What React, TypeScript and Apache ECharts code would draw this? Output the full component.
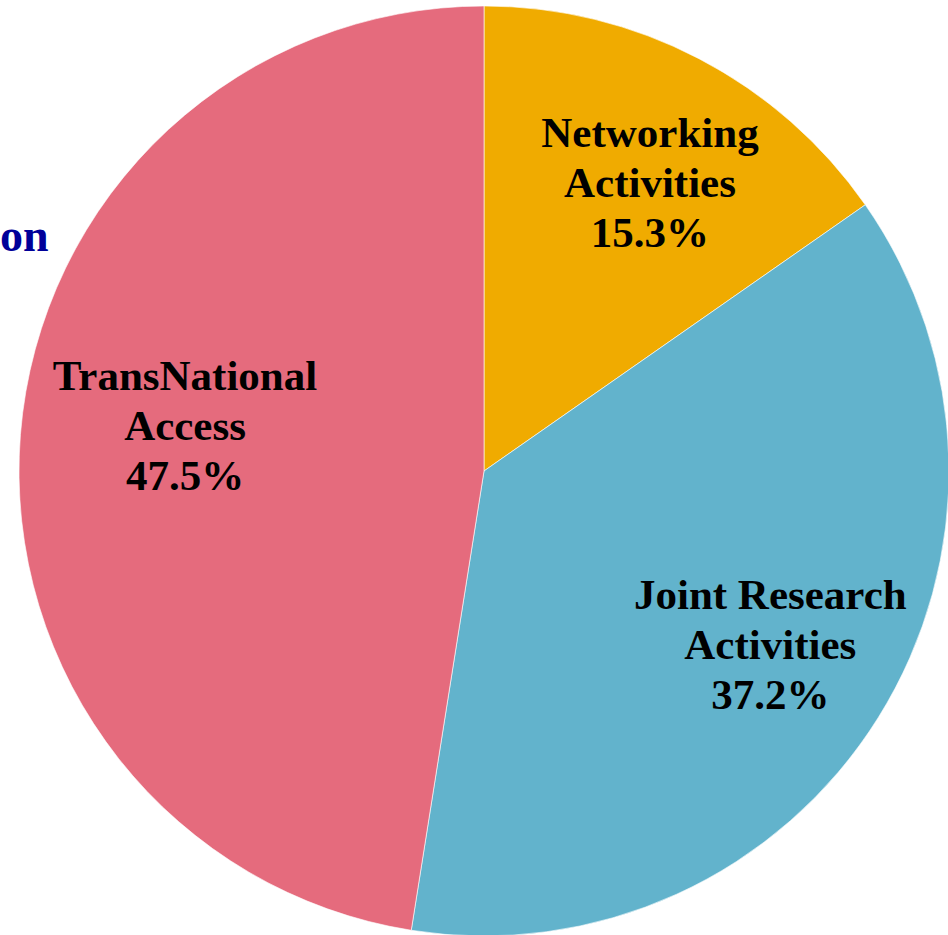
import React, { useEffect, useRef } from "react";
import * as echarts from "echarts";

const categories = ["Networking\nActivities", "Joint Research\nActivities", "TransNational\nAccess"];
const values = [15.3, 37.2, 47.5];
const colors = ["#F0AB00", "#62B3CC", "#E56B7D"];
const labelOffsets: [number, number][] = [[12, 7], [4, -3], [33, -19]];
const titleText = "on";

export default function App() {
  const ref = useRef<HTMLDivElement>(null);
  useEffect(() => {
    if (!ref.current) return;
    const chart = echarts.init(ref.current, null, { renderer: "svg" });
    const font = "'Liberation Serif', 'Times New Roman', serif";
    chart.setOption({
      animation: false,
      backgroundColor: "#ffffff",
      graphic: [
        {
          type: "text",
          left: 0,
          top: 212,
          style: {
            text: titleText,
            fontFamily: font,
            fontWeight: "bold",
            fontSize: 46,
            fill: "#000099",
          },
        },
      ],
      series: [
        {
          type: "pie",
          center: [484, 471],
          radius: [0, 465],
          startAngle: 90,
          clockwise: true,
          silent: true,
          label: { show: false },
          labelLine: { show: false },
          itemStyle: { borderColor: "rgba(255,255,255,0.6)", borderWidth: 1 },
          data: categories.map((c, i) => ({ name: c, value: values[i], itemStyle: { color: colors[i] } })),
        },
        {
          type: "pie",
          center: [484, 471],
          radius: [195, 465],
          startAngle: 90,
          clockwise: true,
          silent: true,
          itemStyle: { color: "transparent" },
          labelLine: { show: false },
          label: {
            show: true,
            position: "inside",
            formatter: "{b}\n{c}%",
            fontFamily: font,
            fontWeight: "bold",
            fontSize: 43,
            lineHeight: 50,
            color: "#000000",
            align: "center",
          },
          data: categories.map((c, i) => ({
            name: c,
            value: values[i],
            label: { offset: labelOffsets[i] },
          })),
        },
      ],
    });
    return () => chart.dispose();
  }, []);
  return (
    <div
      ref={ref}
      style={{ position: "fixed", left: 0, top: 0, width: 948, height: 935, background: "#fff" }}
    />
  );
}
